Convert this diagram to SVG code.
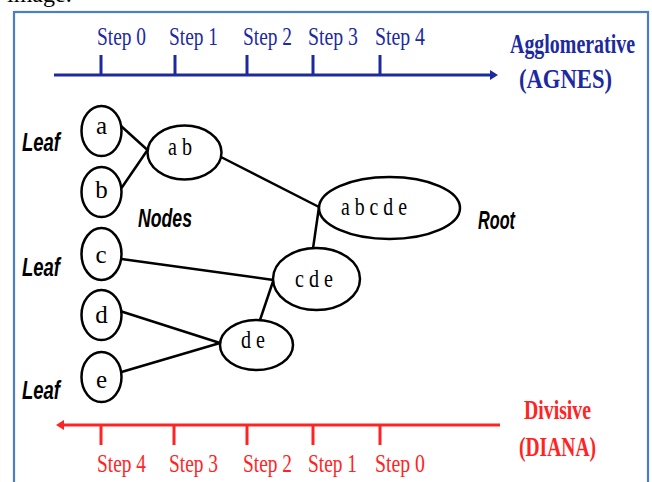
<svg xmlns="http://www.w3.org/2000/svg" width="652" height="482" viewBox="0 0 652 482">
<style>
.frame{fill:none;stroke:#4a7fc0;stroke-width:2.2}
.node{fill:#fff;stroke:#000;stroke-width:2.5}
.edge{stroke:#000;stroke-width:2.5;fill:none}
.lbl{font-family:"Liberation Serif","Times New Roman",serif;font-size:25px;fill:#000;text-anchor:middle}
.side{font-family:"Liberation Sans",Arial,sans-serif;font-size:26px;font-weight:bold;font-style:italic;fill:#000}
.stepB{font-family:"Liberation Serif","Times New Roman",serif;font-size:26px;fill:#1c2aa0}
.stepR{font-family:"Liberation Serif","Times New Roman",serif;font-size:26px;fill:#ff2424}
.titleB{font-family:"Liberation Serif","Times New Roman",serif;font-size:27px;font-weight:bold;fill:#1c2aa0}
.titleR{font-family:"Liberation Serif","Times New Roman",serif;font-size:27px;font-weight:bold;fill:#ff2424}
.axB{stroke:#1c2aa0;stroke-width:3;fill:none}
.axR{stroke:#ff2424;stroke-width:3;fill:none}
</style>
<rect width="652" height="482" fill="#fff"/>
<text x="7" y="2" font-family="Liberation Serif, serif" font-size="24" fill="#000">image.</text>
<rect class="frame" x="14" y="12" width="634" height="480"/>

<g id="agnes-axis">
<path class="axB" d="M54 75 H492"/>
<path d="M490 70 L498 75 L490 80 Z" fill="#1c2aa0"/>
<path class="axB" d="M101 55 V75 M175 55 V75 M247 55 V75 M313 55 V75 M380 55 V75"/>
<text class="stepB" x="97" y="45" textLength="49" lengthAdjust="spacingAndGlyphs">Step 0</text>
<text class="stepB" x="169" y="45" textLength="49" lengthAdjust="spacingAndGlyphs">Step 1</text>
<text class="stepB" x="243" y="45" textLength="49" lengthAdjust="spacingAndGlyphs">Step 2</text>
<text class="stepB" x="308" y="45" textLength="50" lengthAdjust="spacingAndGlyphs">Step 3</text>
<text class="stepB" x="375" y="45" textLength="50" lengthAdjust="spacingAndGlyphs">Step 4</text>
<text class="titleB" x="510" y="53" textLength="125" lengthAdjust="spacingAndGlyphs">Agglomerative</text>
<text class="titleB" x="519" y="88" textLength="93" lengthAdjust="spacingAndGlyphs">(AGNES)</text>
</g>

<g id="diana-axis">
<path class="axR" d="M62 425 H500"/>
<path d="M64 420 L56 425 L64 430 Z" fill="#ff2424"/>
<path class="axR" d="M101 425 V445 M174 425 V445 M247 425 V445 M313 425 V445 M380 425 V445"/>
<text class="stepR" x="97" y="472" textLength="49" lengthAdjust="spacingAndGlyphs">Step 4</text>
<text class="stepR" x="169" y="472" textLength="49" lengthAdjust="spacingAndGlyphs">Step 3</text>
<text class="stepR" x="243" y="472" textLength="49" lengthAdjust="spacingAndGlyphs">Step 2</text>
<text class="stepR" x="308" y="472" textLength="49" lengthAdjust="spacingAndGlyphs">Step 1</text>
<text class="stepR" x="375" y="472" textLength="50" lengthAdjust="spacingAndGlyphs">Step 0</text>
<text class="titleR" x="524" y="419" textLength="67" lengthAdjust="spacingAndGlyphs">Divisive</text>
<text class="titleR" x="519" y="456" textLength="77" lengthAdjust="spacingAndGlyphs">(DIANA)</text>
</g>

<g id="connectors">
<path class="edge" d="M121 126 L147.5 150"/>
<path class="edge" d="M121.5 188 L147.5 150"/>
<path class="edge" d="M221 157 L319 207"/>
<path class="edge" d="M313 248.5 L319 207"/>
<path class="edge" d="M121.5 259 L273.5 280"/>
<path class="edge" d="M260 320 L273.5 280"/>
<path class="edge" d="M121.5 311.5 L220 343"/>
<path class="edge" d="M121.5 372 L220 343"/>
</g>

<g id="node-a"><ellipse class="node" cx="101.5" cy="131" rx="20" ry="25"/><text class="lbl" x="101.5" y="134">a</text></g>
<g id="node-b"><ellipse class="node" cx="101.5" cy="192" rx="20" ry="25"/><text class="lbl" x="101.5" y="198">b</text></g>
<g id="node-c"><ellipse class="node" cx="101.5" cy="254" rx="20" ry="26"/><text class="lbl" x="101" y="263">c</text></g>
<g id="node-d"><ellipse class="node" cx="101.5" cy="315" rx="20" ry="25"/><text class="lbl" x="101.5" y="323">d</text></g>
<g id="node-e"><ellipse class="node" cx="101.5" cy="377" rx="20" ry="25"/><text class="lbl" x="101.5" y="388">e</text></g>
<g id="node-ab"><ellipse class="node" cx="184.5" cy="152.5" rx="37" ry="27"/><text class="lbl" x="180" y="155" textLength="24" lengthAdjust="spacingAndGlyphs">a b</text></g>
<g id="node-abcde"><ellipse class="node" cx="389.5" cy="208" rx="70.5" ry="31"/><text class="lbl" x="374" y="215" textLength="66" lengthAdjust="spacingAndGlyphs">a b c d e</text></g>
<g id="node-cde"><ellipse class="node" cx="316.5" cy="279" rx="43.5" ry="31"/><text class="lbl" x="314" y="287" textLength="38" lengthAdjust="spacingAndGlyphs">c d e</text></g>
<g id="node-de"><ellipse class="node" cx="256.5" cy="345" rx="36.5" ry="25"/><text class="lbl" x="253" y="348" textLength="24" lengthAdjust="spacingAndGlyphs">d e</text></g>

<g id="labels">
<text class="side" x="22" y="151" textLength="38" lengthAdjust="spacingAndGlyphs">Leaf</text>
<text class="side" x="22" y="276" textLength="38" lengthAdjust="spacingAndGlyphs">Leaf</text>
<text class="side" x="22" y="399" textLength="38" lengthAdjust="spacingAndGlyphs">Leaf</text>
<text class="side" x="138" y="227" textLength="54" lengthAdjust="spacingAndGlyphs">Nodes</text>
<text class="side" x="478" y="229" textLength="37" lengthAdjust="spacingAndGlyphs">Root</text>
</g>
</svg>
